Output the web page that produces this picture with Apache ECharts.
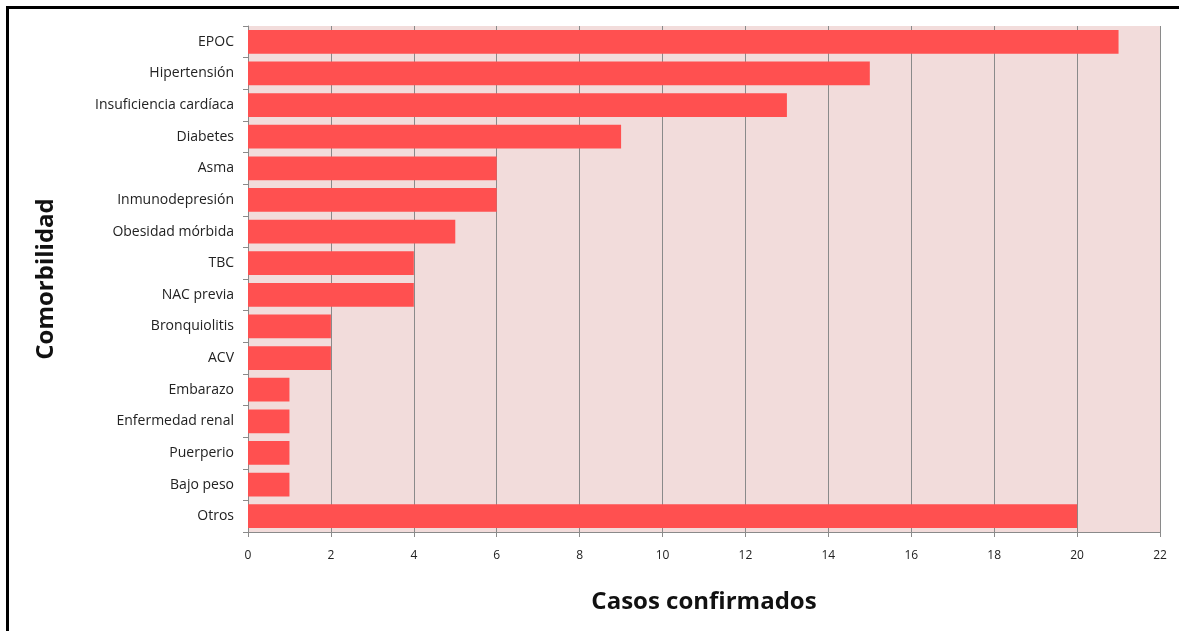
<!DOCTYPE html>
<html lang="es">
  <head>
    <meta charset="UTF-8" />
    <title>Comorbilidad</title>
    <script src="https://cdn.jsdelivr.net/npm/echarts@6.0.0/dist/echarts.min.js"></script>
    <style>
      html, body { margin: 0; padding: 0; background: #fff; }
      #frame {
        position: absolute; left: 6px; top: 6px; width: 1173px; height: 625px;
        border-left: 3px solid #000; border-top: 3px solid #000; box-sizing: border-box;
        pointer-events: none; z-index: 2;
      }
    </style>
  </head>
  <body>
    <div id="chart" style="width: 1179px; height: 631px"></div>
    <div id="frame"></div>

    <script>
      // comorbilidades, de arriba hacia abajo
      var categorias = [
        "EPOC", "Hipertensión", "Insuficiencia cardíaca", "Diabetes", "Asma",
        "Inmunodepresión", "Obesidad mórbida", "TBC", "NAC previa", "Bronquiolitis",
        "ACV", "Embarazo", "Enfermedad renal", "Puerperio", "Bajo peso", "Otros",
      ]
      var casos = [21, 15, 13, 9, 6, 6, 5, 4, 4, 2, 2, 1, 1, 1, 1, 20]

      var mCharts = echarts.init(document.getElementById("chart"))
      var fuente = "'Open Sans', sans-serif"

      var option = {
        animation: false,
        grid: {
          left: 248, right: 19, top: 26, bottom: 99,
          show: true, backgroundColor: "#f2dcdb", borderWidth: 0,
        },
        xAxis: {
          type: "value",
          min: 0, max: 22, interval: 2,
          name: "Casos confirmados",
          nameLocation: "middle",
          nameGap: 58,
          nameTextStyle: { fontFamily: fuente, fontSize: 24, fontWeight: "bold", color: "#111" },
          axisLine: { show: true, lineStyle: { color: "#8a8a8a", width: 1 } },
          axisTick: { show: true, length: 5, lineStyle: { color: "#8a8a8a" } },
          axisLabel: { fontFamily: fuente, fontSize: 12, color: "#222", margin: 18 },
          splitLine: { show: true, lineStyle: { color: "#8a8a8a", width: 1 } },
        },
        yAxis: {
          type: "category",
          inverse: true,
          data: categorias,
          name: "Comorbilidad",
          nameLocation: "middle",
          nameGap: 190,
          nameRotate: 90,
          nameTextStyle: { fontFamily: fuente, fontSize: 24, fontWeight: "bold", color: "#111" },
          axisLine: { show: true, lineStyle: { color: "#8a8a8a", width: 1 } },
          axisTick: { show: true, length: 5, lineStyle: { color: "#8a8a8a" } },
          axisLabel: { fontFamily: fuente, fontSize: 14, color: "#222", margin: 14 },
        },
        series: [
          {
            type: "bar",
            data: casos,
            barCategoryGap: "25%",
            itemStyle: { color: "#ff5050" },
          },
        ],
      }

      mCharts.setOption(option)
    </script>
  </body>
</html>
